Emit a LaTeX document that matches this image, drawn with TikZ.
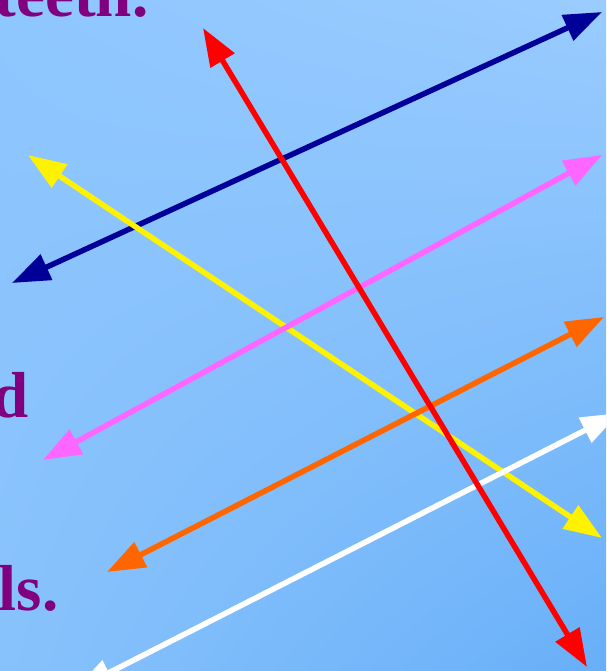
\documentclass[tikz,border=0pt]{standalone}
\usepackage{fontspec}
\setmainfont{Liberation Serif}
\usepackage{xcolor}
\usetikzlibrary{arrows.meta,shadings}
\definecolor{bgtl}{HTML}{8EC6FE}
\definecolor{bgtr}{HTML}{9ACCFF}
\definecolor{bgbl}{HTML}{88C2FC}
\definecolor{bgbr}{HTML}{68AFF8}
\definecolor{txtpurple}{HTML}{800080}
\definecolor{linenavy}{HTML}{000099}
\definecolor{linepink}{HTML}{FF66FF}
\definecolor{lineorange}{HTML}{FF6600}
\begin{document}
\begin{tikzpicture}[x=1pt, y=-1pt, line width=5.5pt,
  dbl/.style={{Triangle[length=38pt, width=27pt]}-{Triangle[length=38pt, width=27pt]}},
  word/.style={text=txtpurple, font=\fontsize{65}{72}\selectfont\bfseries, inner sep=0pt}]
\useasboundingbox (0,0) rectangle (606,671);
\clip (0,0) rectangle (606,671);
%% background
\shade[upper left=bgtl, upper right=bgtr, lower left=bgbl, lower right=bgbr] (0,0) rectangle (606,671);
%% words cut at the edge
\node[word, anchor=base east] (w1) at (151,17) {teeth.};
\node[word, anchor=base east] (w2) at (31,417) {d};
\node[word, anchor=base east] (w3) at (61,610) {ls.};
%% end points
\coordinate (nv1) at (12,283);
\coordinate (nv2) at (602,12);
\coordinate (rd1) at (203,28);
\coordinate (rd2) at (587,667);
\coordinate (yl1) at (28,155);
\coordinate (yl2) at (602,538);
\coordinate (pk1) at (43,460);
\coordinate (pk2) at (602,155);
\coordinate (or1) at (107,572);
\coordinate (or2) at (604,317);
\coordinate (wt1) at (75,690);
\coordinate (wt2) at (619,413);
%% lines
\draw[dbl, linenavy] (nv1) -- (nv2);
\draw[dbl, yellow] (yl1) -- (yl2);
\draw[dbl, linepink] (pk1) -- (pk2);
\draw[dbl, lineorange] (or1) -- (or2);
\draw[dbl, white] (wt1) -- (wt2);
\draw[dbl, red] (rd1) -- (rd2);
\end{tikzpicture}
\end{document}
